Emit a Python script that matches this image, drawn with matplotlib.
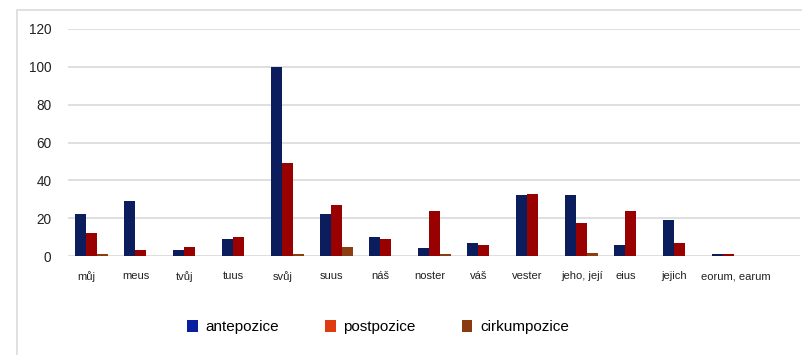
import matplotlib
matplotlib.use('Agg')
import numpy as np
import matplotlib.pyplot as plt
import matplotlib.transforms as mtransforms
from matplotlib.patches import Patch, Rectangle

plt.rcParams['font.family'] = ['Liberation Sans', 'DejaVu Sans']

# --- data ---
labels = ['můj', 'meus', 'tvůj', 'tuus', 'svůj', 'suus', 'náš', 'noster',
          'váš', 'vester', 'jeho, její', 'eius', 'jejich', 'eorum, earum']
antepozice = [22, 29, 3, 9, 100, 22, 10, 4, 7, 32, 32, 6, 19, 1]
postpozice = [12, 3, 5, 10, 49, 27, 9, 24, 6, 33, 17.5, 24, 7, 1]
cirkumpozice = [1, 0, 0, 0, 1, 5, 0, 1, 0, 0, 1.5, 0, 0, 0]

series = [('antepozice', antepozice, '#0b1d5c', '#0a1ea0'),
          ('postpozice', postpozice, '#990000', '#e03a10'),
          ('cirkumpozice', cirkumpozice, '#8b3e12', '#8a3a10')]

fig = plt.figure(figsize=(8.03, 3.55), dpi=100)
ax = fig.add_axes([68 / 803, 1 - 256 / 355, (800 - 68) / 803, (256 - 29) / 355])

# light frame around the chart area
fig.patches.append(Rectangle((17 / 803, -0.1), 1.1, 1.1 - 10 / 355,
                             transform=fig.transFigure, fill=False,
                             edgecolor='#dcdcdc', lw=1.2))

x = np.arange(len(labels))
w = 0.2245
for k, (name, vals, col, _) in enumerate(series):
    ax.bar(x + (k - 0.55) * w, vals, width=w, color=col, linewidth=0)

ax.set_ylim(0, 120)
ax.set_yticks(range(0, 121, 20))
ax.set_xlim(-0.378, 14.56)
ax.set_xticks(x)
ax.set_xticklabels(labels, fontsize=8, color='#222222')
ax.tick_params(axis='x', length=0, pad=11)
ax.tick_params(axis='y', length=0, pad=12, labelsize=9.8, labelcolor='#222222')
ax.grid(axis='y', color='#d9d9d9', lw=1.2)
ax.set_axisbelow(True)
for s in ax.spines.values():
    s.set_visible(False)

# nudge the two long labels to the right
for i, dx in [(10, 6), (13, 12)]:
    lab = ax.get_xticklabels()[i]
    lab.set_transform(lab.get_transform() +
                      mtransforms.ScaledTranslation(dx / 100, 0, fig.dpi_scale_trans))

handles = [Patch(facecolor=lc, edgecolor='none') for _, _, _, lc in series]
fig.legend(handles, [s[0] for s in series], loc='center', ncol=3,
           bbox_to_anchor=(378 / 803, 1 - 327 / 355), frameon=False,
           fontsize=11, handlelength=0.7, handleheight=0.8,
           handletextpad=0.5, columnspacing=3.0)

fig.savefig('out.png', dpi=100)
